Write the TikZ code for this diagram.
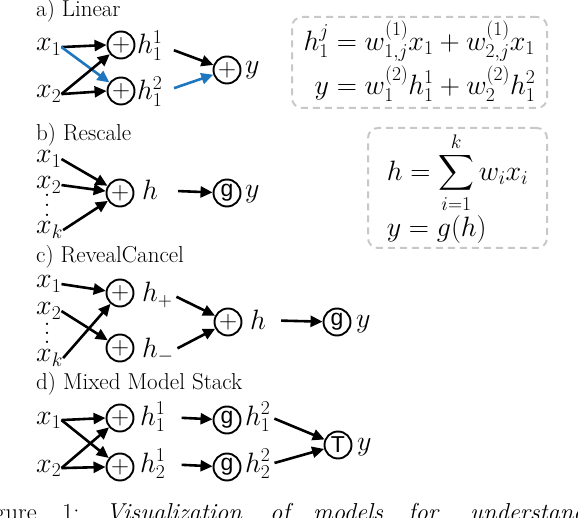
\RequirePackage{fix-cm}
\documentclass[tikz,border=0pt]{standalone}
\usepackage{amsmath}
\usepackage{fontspec}
\newfontfamily\sff{Liberation Sans}
\usetikzlibrary{arrows.meta}
\definecolor{arrblue}{RGB}{30,118,190}
\definecolor{boxgray}{RGB}{200,200,200}
\newcommand\myvdots[1]{\vbox{\baselineskip=#1\lineskiplimit=0pt\hbox{.}\hbox{.}\hbox{.}}}
\tikzset{
  op/.style={circle, draw, line width=1.9pt, minimum size=27pt, inner sep=0pt, font=\sff\fontsize{23}{23}\selectfont},
  opplus/.style={op, font=\fontsize{25}{25}\selectfont},
  arr/.style={-{Triangle[length=12pt,width=11pt]}, line width=2.6pt},
  barr/.style={arr, draw=arrblue, fill=arrblue},
  mth/.style={inner sep=0pt, anchor=base west, font=\fontsize{28}{30}\selectfont},
  dotsn/.style={inner sep=0pt, font=\fontsize{28}{28}\selectfont},
  lbl/.style={inner sep=0pt, anchor=base west, font=\fontsize{23}{24}\selectfont},
  captxt/.style={inner sep=0pt, anchor=base west, font=\fontsize{24.5}{26}\selectfont},
  eqbox/.style={draw=boxgray, line width=2pt, dash pattern=on 7pt off 5pt, rounded corners=10pt, inner sep=0pt, font=\fontsize{28}{30}\selectfont},
}
\begin{document}
\begin{tikzpicture}[x=1pt,y=-1pt]
\useasboundingbox (0,0) rectangle (578,518);
\clip (0,0) rectangle (578,518);
% ---------- a) Linear
\node[lbl] (ta) at (36,17) {a) Linear};
\node[mth] (ax1) at (36,51) {$x_1$};
\node[mth] (ax2) at (36,98) {$x_2$};
\node[opplus] (ap1) at (121,45) {$+$};
\node[opplus] (ap2) at (121,91) {$+$};
\node[mth] (ah1) at (137,54) {$h_1^1$};
\node[mth] (ah2) at (137,100) {$h_1^2$};
\node[opplus] (aout) at (227,70) {$+$};
\node[mth] (ay) at (245,74) {$y$};
\draw[arr] (ax1.east) -- (ap1.west);
\draw[barr] (ax1.east) -- (ap2);
\draw[arr] (ax2.east) -- (ap1);
\draw[arr] (ax2.east) -- (ap2.west);
\draw[arr, shorten <=12pt] (ah1.east) -- (aout);
\draw[barr, shorten <=12pt] (ah2.east) -- (aout);
\node[eqbox, minimum width=255pt, minimum height=91pt] (abox) at (419.5,62.5)
  {$\begin{aligned} h_1^j &= w^{(1)}_{1,j}x_1 + w^{(1)}_{2,j}x_1\\ y &= w^{(2)}_1 h_1^1 + w^{(2)}_2 h_1^2\end{aligned}$};
% ---------- b) Rescale
\node[lbl] (tb) at (36,141) {b) Rescale};
\node[mth] (bx1) at (36,163) {$x_1$};
\node[mth] (bx2) at (36,189) {$x_2$};
\node[dotsn] (bdots) at (47,205) {\myvdots{10pt}};
\node[mth] (bxk) at (36,234) {$x_k$};
\node[opplus] (bp) at (120,193) {$+$};
\node[mth] (bh) at (142,200) {$h$};
\node[op] (bg) at (227,193) {g};
\node[mth] (by) at (245,198) {$y$};
\draw[arr] (bx1.east) -- (bp);
\draw[arr] (bx2.east) -- (bp);
\draw[arr] (bxk.east) -- (bp);
\draw[arr, shorten <=20pt] (bh.east) -- (bg);
\node[eqbox, minimum width=179pt, minimum height=120pt, align=left] (bbox) at (457.5,188)
  {$\displaystyle h=\sum_{i=1}^k w_ix_i$\\[2pt] $y=g(h)$};
% ---------- c) RevealCancel
\node[lbl] (tc) at (36,263) {c) RevealCancel};
\node[mth] (cx1) at (36,288) {$x_1$};
\node[mth] (cx2) at (36,315) {$x_2$};
\node[dotsn] (cdots) at (47,333) {\myvdots{9pt}};
\node[mth] (cxk) at (36,362) {$x_k$};
\node[opplus] (cp1) at (120,293) {$+$};
\node[opplus] (cp2) at (120,348) {$+$};
\node[mth] (chp) at (142,302) {$h_+$};
\node[mth] (chm) at (142,357) {$h_-$};
\node[opplus] (cmid) at (228,322) {$+$};
\node[mth] (ch) at (250,330) {$h$};
\node[op] (cg) at (337,322) {g};
\node[mth] (cy) at (356,328) {$y$};
\draw[arr] (cx1.east) -- (cp1);
\draw[arr] (cx2.east) -- (cp2);
\draw[arr] (cxk.east) -- (cp1);
\draw[arr, shorten <=4pt] (chp.east) -- (cmid);
\draw[arr, shorten <=4pt] (chm.east) -- (cmid);
\draw[arr, shorten <=15pt] (ch.east) -- (cg);
% ---------- d) Mixed Model Stack
\node[lbl] (td) at (36,389) {d) Mixed Model Stack};
\node[mth] (dx1) at (36,424) {$x_1$};
\node[mth] (dx2) at (36,472) {$x_2$};
\node[opplus] (dp1) at (120,418) {$+$};
\node[opplus] (dp2) at (120,467) {$+$};
\node[mth] (dh11) at (140,425) {$h_1^1$};
\node[mth] (dh21) at (140,472) {$h_2^1$};
\node[op] (dg1) at (227,420) {g};
\node[op] (dg2) at (227,467) {g};
\node[mth] (dh12) at (245,425) {$h_1^2$};
\node[mth] (dh22) at (245,472) {$h_2^2$};
\node[op] (dT) at (338,445) {T};
\node[mth] (dy) at (357,450) {$y$};
\draw[arr] (dx1.east) -- (dp1.west);
\draw[arr] (dx1.east) -- (dp2);
\draw[arr] (dx2.east) -- (dp1);
\draw[arr] (dx2.east) -- (dp2.west);
\draw[arr, shorten <=16pt] (dh11.east) -- (dg1);
\draw[arr, shorten <=16pt] (dh21.east) -- (dg2);
\draw[arr, shorten <=4pt] (dh12.east) -- (dT);
\draw[arr, shorten <=4pt] (dh22.east) -- (dT);
% ---------- caption (cut off)
\node[captxt, anchor=base east] (cap0) at (37,520) {Figure};
\node[captxt] (cap1) at (62,520) {1:};
\node[captxt] (cap2) at (106,520) {\itshape Visualization};
\node[captxt] (cap3) at (270,520) {\itshape of};
\node[captxt] (cap4) at (313,520) {\itshape models};
\node[captxt] (cap5) at (408,520) {\itshape for};
\node[captxt] (cap6) at (470,520) {\itshape understanding};
\end{tikzpicture}
\end{document}
